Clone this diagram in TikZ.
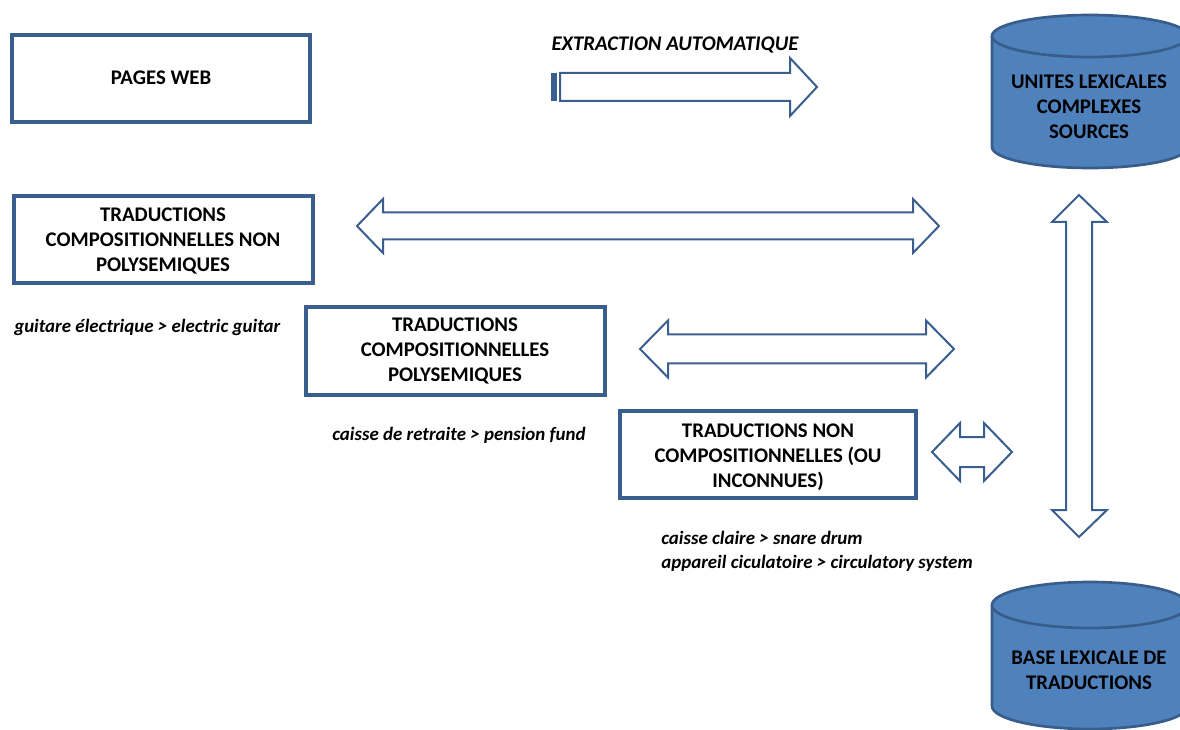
\documentclass[tikz,border=0pt]{standalone}
\usepackage{fontspec}
\setmainfont{Carlito}
\definecolor{bord}{HTML}{3A5F8E}
\definecolor{cylfill}{HTML}{4F81BD}
\definecolor{cylbord}{HTML}{385D8A}
\tikzset{
  box/.style={draw=bord, line width=2.3pt, fill=white},
  blk/.style={draw=bord, line width=1.5pt, fill=white, line join=miter},
  lbl/.style={font=\fontsize{15.6}{18.75}\selectfont\bfseries, align=center, inner sep=0pt},
  ex/.style={font=\fontsize{14.2}{18}\selectfont\bfseries\itshape, anchor=west, inner sep=0pt},
  cyl/.style={fill=cylfill, draw=cylbord, line width=2pt}
}
% horizontal double block arrow: left tip x, right tip x, centre y, head length, shaft half, head half
\newcommand{\hdbl}[6]{%
  \draw[blk] (#1,#3) -- ({#1+#4},{#3-#6}) -- ({#1+#4},{#3-#5}) -- ({#2-#4},{#3-#5}) -- ({#2-#4},{#3-#6})
    -- (#2,#3) -- ({#2-#4},{#3+#6}) -- ({#2-#4},{#3+#5}) -- ({#1+#4},{#3+#5}) -- ({#1+#4},{#3+#6}) -- cycle;}
\begin{document}
\begin{tikzpicture}[x=0.75pt,y=-0.75pt]
\useasboundingbox (0,0) rectangle (1180,730);
\clip (0,0) rectangle (1180,730);

% boxes
\draw[box] (12,35) rectangle (310,122);
\node[lbl] (web) at (161,78) {PAGES WEB};
\draw[box] (14,196) rectangle (313,283);
\node[lbl] (tcnp) at (163,241) {TRADUCTIONS\\COMPOSITIONNELLES NON\\POLYSEMIQUES};
\draw[box] (306,307) rectangle (605,395);
\node[lbl] (tcp) at (455,351) {TRADUCTIONS\\COMPOSITIONNELLES\\POLYSEMIQUES};
\draw[box] (620,411) rectangle (916,498);
\node[lbl] (tnc) at (768,457) {TRADUCTIONS NON\\COMPOSITIONNELLES (OU\\INCONNUES)};

% examples
\node[ex] (ex1) at (14,327) {guitare électrique > electric guitar};
\node[ex] (ex2) at (332,435) {caisse de retraite > pension fund};
\node[ex] (ex3) at (661,538) {caisse claire > snare drum};
\node[ex] (ex4) at (661,563) {appareil ciculatoire > circulatory system};

% extraction arrow
\node[font=\fontsize{15.6}{18}\selectfont\bfseries\itshape, inner sep=0pt] (extr) at (675,45) {EXTRACTION AUTOMATIQUE};
\fill[bord] (551,73) rectangle (557,101);
\draw[blk] (560,73) -- (790,73) -- (790,58) -- (817,87) -- (790,116) -- (790,101) -- (560,101) -- cycle;

% horizontal double arrows
\hdbl{357}{939}{226}{26}{13.5}{27}
\hdbl{640}{954}{349}{28}{14.5}{28.5}
\hdbl{932}{1012}{452}{28}{15}{29}

% vertical double arrow
\draw[blk] (1079,195) -- (1107,222) -- (1092,222) -- (1092,510) -- (1107,510) -- (1079,537)
  -- (1052,510) -- (1066,510) -- (1066,222) -- (1052,222) -- cycle;

% cylinder 1
\fill[cylfill] (992,36) -- (992,147) arc[start angle=180,end angle=360,x radius=73.5pt,y radius=15.75pt] -- (1188,36) -- cycle;
\draw[cyl, fill=none] (992,36) -- (992,147) arc[start angle=180,end angle=360,x radius=73.5pt,y radius=15.75pt] -- (1188,36);
\draw[cyl] (1090,36) ellipse [x radius=73.5pt, y radius=15.75pt];
\node[lbl] (src) at (1089,107) {UNITES LEXICALES\\COMPLEXES\\SOURCES};

% cylinder 2
\fill[cylfill] (992,605) -- (992,706) arc[start angle=180,end angle=360,x radius=73.5pt,y radius=17.25pt] -- (1188,605) -- cycle;
\draw[cyl, fill=none] (992,605) -- (992,706) arc[start angle=180,end angle=360,x radius=73.5pt,y radius=17.25pt] -- (1188,605);
\draw[cyl] (1090,605) ellipse [x radius=73.5pt, y radius=17.25pt];
\node[lbl] (base) at (1089,670) {BASE LEXICALE DE\\TRADUCTIONS};
\end{tikzpicture}
\end{document}
